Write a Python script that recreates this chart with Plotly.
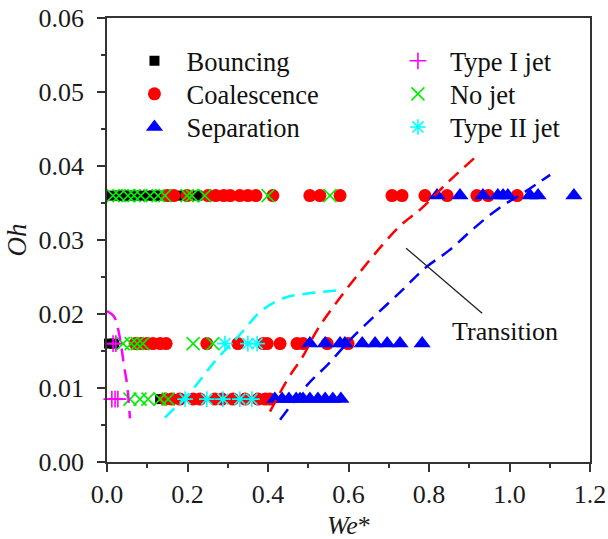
import plotly.graph_objects as go

# ---------------- data ----------------
OH_ROWS = [0.036, 0.016, 0.0085]

bounce_we = [
    [0.012, 0.027, 0.042, 0.057, 0.072, 0.087, 0.102, 0.117, 0.132, 0.152, 0.172, 0.195, 0.225, 0.29],
    [0.005, 0.018],
    [0.132, 0.144],
]
coal_we = [
    [0.150, 0.166, 0.199, 0.251, 0.270, 0.290, 0.306, 0.330, 0.350, 0.370, 0.412, 0.504, 0.529,
     0.579, 0.708, 0.733, 0.790, 0.845, 0.919, 0.947, 1.019],
    [0.070, 0.084, 0.099, 0.114, 0.132, 0.147, 0.248, 0.325, 0.388, 0.398, 0.430, 0.472, 0.487,
     0.547, 0.599],
    [0.144, 0.161, 0.181, 0.214, 0.231, 0.268, 0.286, 0.313, 0.343, 0.375, 0.393, 0.405],
]
sep_we = [
    [0.820, 0.877, 0.934, 0.971, 0.984, 0.996, 1.051, 1.071, 1.160],
    [0.504, 0.542, 0.579, 0.591, 0.634, 0.666, 0.696, 0.728, 0.783],
    [0.417, 0.435, 0.452, 0.470, 0.487, 0.504, 0.524, 0.542, 0.561, 0.581],
]
jet1_we = [
    [],
    [0.015, 0.022],
    [0.012, 0.020, 0.027],
]
nojet_we = [
    [0.015, 0.030, 0.052, 0.067, 0.084, 0.107, 0.127, 0.144, 0.199, 0.211, 0.243, 0.400, 0.554],
    [0.040, 0.060, 0.075, 0.089, 0.214, 0.263],
    [0.057, 0.082, 0.102, 0.132, 0.152],
]
jet2_we = [
    [],
    [0.293, 0.350, 0.373],
    [0.194, 0.248, 0.288, 0.330, 0.360],
]

# transition / boundary curves
red_tr_we = [0.405, 0.450, 0.487, 0.524, 0.629, 0.728, 0.780, 0.845, 0.915]
red_tr_oh = [0.0068, 0.0113, 0.0143, 0.0180, 0.0257, 0.0319, 0.0342, 0.0377, 0.0412]
blue_tr_we = [0.430, 0.499, 0.549, 0.611, 0.733, 0.790, 0.850, 0.912, 0.974, 1.041, 1.101]
blue_tr_oh = [0.0057, 0.0105, 0.0132, 0.0169, 0.0232, 0.0262, 0.0286, 0.0316, 0.0343, 0.0366, 0.0388]
mag_we = [0.0, 0.017, 0.027, 0.035, 0.042, 0.050, 0.057]
mag_oh = [0.0204, 0.0197, 0.0181, 0.0158, 0.0131, 0.0104, 0.0059]
cyan_we = [0.144, 0.211, 0.268, 0.330, 0.385, 0.442, 0.504, 0.574]
cyan_oh = [0.0060, 0.0097, 0.0136, 0.0172, 0.0205, 0.0222, 0.0228, 0.0232]

x_ticks = [0.0, 0.2, 0.4, 0.6, 0.8, 1.0, 1.2]
y_ticks = [0.00, 0.01, 0.02, 0.03, 0.04, 0.05, 0.06]

# annotation anchors (data coords)
label_pos = (0.99, 0.0176)
pointer_from = (0.743, 0.0289)
pointer_to = (0.932, 0.0201)

# legend placement (paper coords): two columns x three rows
LEG_COL_X = [0.032, 0.5775]
LEG_ROW_Y = [0.903, 0.8286, 0.754]
X_TITLE_Y = -0.142  # paper coords


def flat(rows):
    xs, ys = [], []
    for oh, row in zip(OH_ROWS, rows):
        xs += row
        ys += [oh] * len(row)
    return xs, ys


FONT = "Times New Roman"

fig = go.Figure()

series = [
    ("Bouncing", bounce_we, dict(symbol="square", size=10, color="black"), (0, 0)),
    ("Coalescence", coal_we, dict(symbol="circle", size=13, color="#ff0000"), (0, 1)),
    ("Separation", sep_we, dict(symbol="triangle-up", size=15, color="#0000ff"), (0, 2)),
    ("Type I jet", jet1_we, dict(symbol="cross-thin", size=12, color="#ff00ff",
                                 line=dict(color="#ff00ff", width=1.6)), (1, 0)),
    ("No jet", nojet_we, dict(symbol="x-thin", size=13, color="#00ee00",
                              line=dict(color="#00ee00", width=1.6)), (1, 1)),
    ("Type II jet", jet2_we, dict(symbol="asterisk", size=13, color="#00ffff",
                                  line=dict(color="#00ffff", width=1.6)), (1, 2)),
]
legend_layouts = {}
for i, (name, rows, mk, (col, row)) in enumerate(series):
    xs, ys = flat(rows)
    lname = "legend" if i == 0 else f"legend{i + 1}"
    fig.add_trace(go.Scatter(x=xs, y=ys, mode="markers", name=name, marker=mk,
                             legend=lname, cliponaxis=False))
    legend_layouts[lname] = dict(
        x=LEG_COL_X[col], y=LEG_ROW_Y[row], xanchor="left", yanchor="middle",
        font=dict(family=FONT, size=26.5, color="#111111"), bgcolor="rgba(0,0,0,0)",
        itemwidth=54, tracegroupgap=0,
    )

for xs, ys, colr in [(mag_we, mag_oh, "#ff00ff"), (cyan_we, cyan_oh, "#00ffff"),
                     (red_tr_we, red_tr_oh, "#ff0000"), (blue_tr_we, blue_tr_oh, "#0000ff")]:
    fig.add_trace(go.Scatter(x=xs, y=ys, mode="lines", showlegend=False,
                             line=dict(color=colr, width=2.5, dash="13px,8px", shape="spline")))

fig.add_shape(type="line", xref="x", yref="y",
              x0=pointer_from[0], y0=pointer_from[1], x1=pointer_to[0], y1=pointer_to[1],
              line=dict(color="#222222", width=1.3))
fig.add_annotation(x=label_pos[0], y=label_pos[1], text="Transition", showarrow=False,
                   font=dict(family=FONT, size=26, color="#111111"))
fig.add_annotation(x=0.5, y=X_TITLE_Y, xref="paper", yref="paper", text="<i>We</i>*",
                   showarrow=False, yanchor="middle",
                   font=dict(family=FONT, size=26, color="#1a1a1a"))

axis_common = dict(
    showline=True, linecolor="#333333", linewidth=1.8, mirror=True,
    ticks="outside", ticklen=8, tickwidth=1.6, tickcolor="#333333",
    showgrid=False, zeroline=False, automargin=False,
    tickfont=dict(family=FONT, size=26, color="#1a1a1a"),
)

fig.update_xaxes(range=[0, 1.2], tickvals=x_ticks, ticktext=[f"{v:.1f}" for v in x_ticks],
                 minor=dict(ticks="outside", ticklen=4, tickwidth=1.6, tickcolor="#333333", dtick=0.1,
                            tick0=0),
                 **axis_common)
fig.update_yaxes(range=[0, 0.06], tickvals=y_ticks, ticktext=[f"{v:.2f}" for v in y_ticks],
                 minor=dict(ticks="outside", ticklen=4, tickwidth=1.6, tickcolor="#333333", dtick=0.005,
                            tick0=0),
                 ticklabelstandoff=8,
                 title=dict(text="<i>Oh</i>", font=dict(family=FONT, size=27, color="#1a1a1a"),
                            standoff=4),
                 **axis_common)

fig.update_layout(
    width=608, height=539,
    margin=dict(l=107, r=18, t=18, b=77),
    plot_bgcolor="white", paper_bgcolor="white",
    **legend_layouts,
)

fig.write_html("out.html")
